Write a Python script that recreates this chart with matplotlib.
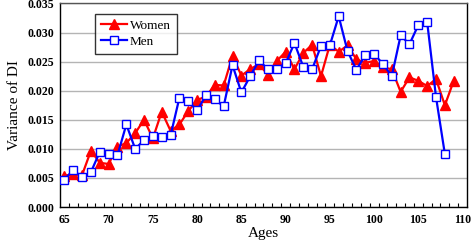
import numpy as np
import matplotlib.pyplot as plt

# Ages
ages_women = list(range(65, 110))
ages_men = list(range(65, 109))

# Variance of DI
women = [0.0054, 0.0056, 0.0055, 0.0097, 0.0076, 0.0074, 0.0104, 0.0110, 0.0127, 0.0150,
         0.0118, 0.0164, 0.0131, 0.0142, 0.0165, 0.0184, 0.0190, 0.0210, 0.0209, 0.0260,
         0.0226, 0.0237, 0.0246, 0.0227, 0.0251, 0.0267, 0.0237, 0.0265, 0.0279, 0.0225,
         0.0279, 0.0267, 0.0278, 0.0254, 0.0248, 0.0251, 0.0240, 0.0237, 0.0198, 0.0223,
         0.0217, 0.0208, 0.0220, 0.0175, 0.0217]
men = [0.0047, 0.0064, 0.0051, 0.0060, 0.0095, 0.0091, 0.0089, 0.0142, 0.0100, 0.0115,
       0.0122, 0.0121, 0.0123, 0.0188, 0.0182, 0.0166, 0.0192, 0.0185, 0.0173, 0.0244,
       0.0197, 0.0225, 0.0252, 0.0237, 0.0238, 0.0247, 0.0282, 0.0241, 0.0237, 0.0277,
       0.0278, 0.0328, 0.0268, 0.0236, 0.0261, 0.0263, 0.0246, 0.0225, 0.0295, 0.0280,
       0.0313, 0.0318, 0.0189, 0.0091]

plt.rcParams['font.family'] = ['Liberation Serif', 'DejaVu Serif']

fig = plt.figure(figsize=(4.73, 2.44), dpi=100)
ax = fig.add_axes([0.1268, 0.1516, 0.8605, 0.8341])

ax.plot(ages_women, women, color='#ff0000', lw=1.6, marker='^', ms=7,
        mfc='#ff0000', mec='#ff0000', label='Women', zorder=3)
ax.plot(ages_men, men, color='#0000ff', lw=1.6, marker='s', ms=6,
        mfc='white', mec='#0000ff', mew=1.0, label='Men', zorder=4)

ax.set_xlim(64.5, 110.5)
ax.set_ylim(0, 0.035)
ax.set_xticks(range(65, 111, 5))
ax.set_xticks(np.arange(65.5, 110.5, 1), minor=True)
ax.tick_params(axis='x', which='major', length=0, labelsize=8.5, pad=5)
ax.tick_params(axis='x', which='minor', direction='in', length=3, width=0.8)
ax.set_yticks(np.arange(0, 0.0351, 0.005))
ax.yaxis.set_major_formatter(plt.FuncFormatter(lambda v, p: f'{v:.3f}'))
ax.tick_params(axis='y', length=0, labelsize=8.5, pad=4)
for lbl in ax.get_xticklabels() + ax.get_yticklabels():
    lbl.set_fontweight('bold')

ax.grid(axis='y', color='#b4b4b4', lw=1)
ax.set_axisbelow(True)
for s in ax.spines.values():
    s.set_color('black')
    s.set_linewidth(1)
ax.spines['top'].set_color('#555555')

ax.set_xlabel('Ages', fontsize=11, labelpad=1)
ax.set_ylabel('Variance of DI', fontsize=11, labelpad=5)

leg = ax.legend(loc='upper left', bbox_to_anchor=(0.086, 0.95), fontsize=9.5,
                frameon=True, fancybox=False, edgecolor='black', handlelength=2.0,
                handletextpad=0.2, borderpad=0.45, labelspacing=0.3,
                borderaxespad=0)
leg.get_frame().set_linewidth(1)

fig.savefig('out.png', dpi=100)
